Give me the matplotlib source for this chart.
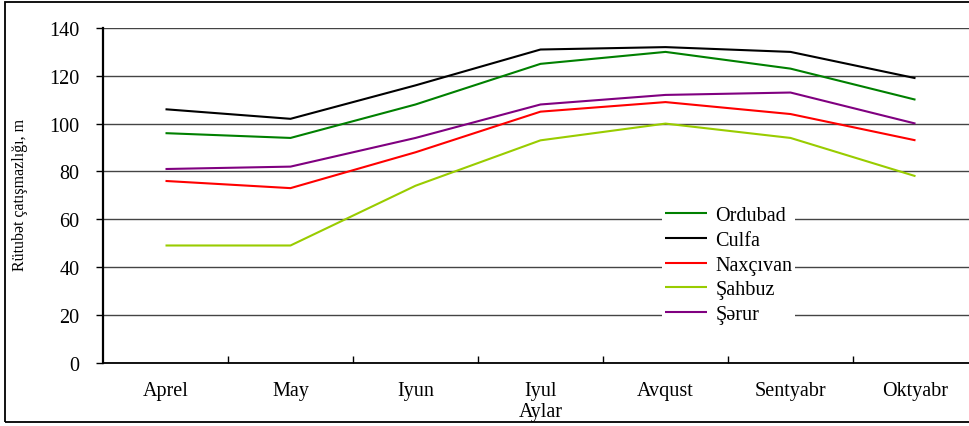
import matplotlib
matplotlib.use("Agg")
import matplotlib.pyplot as plt
from matplotlib.patches import Rectangle
import numpy as np

months = ["Aprel", "May", "Iyun", "Iyul", "Avqust", "Sentyabr", "Oktyabr"]
ordubad = [96, 94, 108, 125, 130, 123, 110]
culfa = [106, 102, 116, 131, 132, 130, 119]
naxcivan = [76, 73, 88, 105, 109, 104, 93]
sahbuz = [49, 49, 74, 93, 100, 94, 78]
serur = [81, 82, 94, 108, 112, 113, 100]
yticks = [0, 20, 40, 60, 80, 100, 120, 140]

series = [
    ("Ordubad", ordubad, "#008000"),
    ("Culfa", culfa, "#000000"),
    ("Naxçıvan", naxcivan, "#FF0000"),
    ("Şahbuz", sahbuz, "#99CC00"),
    ("Şərur", serur, "#800080"),
]

plt.rcParams["font.family"] = ["Liberation Serif", "DejaVu Serif"]

W, H = 969, 427
fig = plt.figure(figsize=(W / 100, H / 100), dpi=100)
fig.patch.set_facecolor("white")

# outer frame of the figure
fig.add_artist(Rectangle((5 / W, 1 - 423 / H), 1.2, (423 - 3) / H,
                         transform=fig.transFigure, fill=False,
                         edgecolor="black", linewidth=1.3))

ax = fig.add_axes([103 / W, 1 - 363.6 / H, 875 / W, (363.6 - 29) / H])
x = np.arange(len(months))
for name, vals, col in series:
    ax.plot(x, vals, color=col, linewidth=1.5, label=name, solid_capstyle="butt")

ax.set_xlim(-0.5, len(months) - 0.5)
ax.set_ylim(0, 140)
ax.set_yticks(yticks)
ax.set_yticklabels([str(v) for v in yticks])
ax.yaxis.grid(True, color="#444444", linewidth=1.0)
ax.set_axisbelow(True)

ax.set_xticks(x)
ax.set_xticklabels(months)
ax.set_xticks(np.arange(0.5, len(months) - 0.5, 1.0), minor=True)
ax.tick_params(axis="x", which="major", length=0, pad=13, labelsize=14.5)
ax.tick_params(axis="x", which="minor", direction="in", length=5, width=1, color="black")
ax.tick_params(axis="y", which="major", direction="out", length=5, width=1,
               pad=12, labelsize=14.5)

for s in ["top", "right"]:
    ax.spines[s].set_visible(False)
ax.spines["left"].set_linewidth(1.6)
ax.spines["bottom"].set_linewidth(1.3)

ax.set_xlabel("Aylar", fontsize=14.5, labelpad=2)
fig.text(20 / W, 1 - 195 / H, "Rütubət çatışmazlığı, m", rotation=90,
         ha="center", va="center", fontsize=11.5)

leg = ax.legend(loc="upper left", bbox_to_anchor=(662 / W, 1 - 204 / H),
                bbox_transform=fig.transFigure, frameon=True, fontsize=14.5,
                handlelength=2.1, handletextpad=0.4, labelspacing=0.28,
                borderpad=0.15, borderaxespad=0)
leg.get_frame().set_edgecolor("none")
leg.get_frame().set_facecolor("white")
leg.get_frame().set_alpha(1)

fig.savefig("out.png", dpi=100)
